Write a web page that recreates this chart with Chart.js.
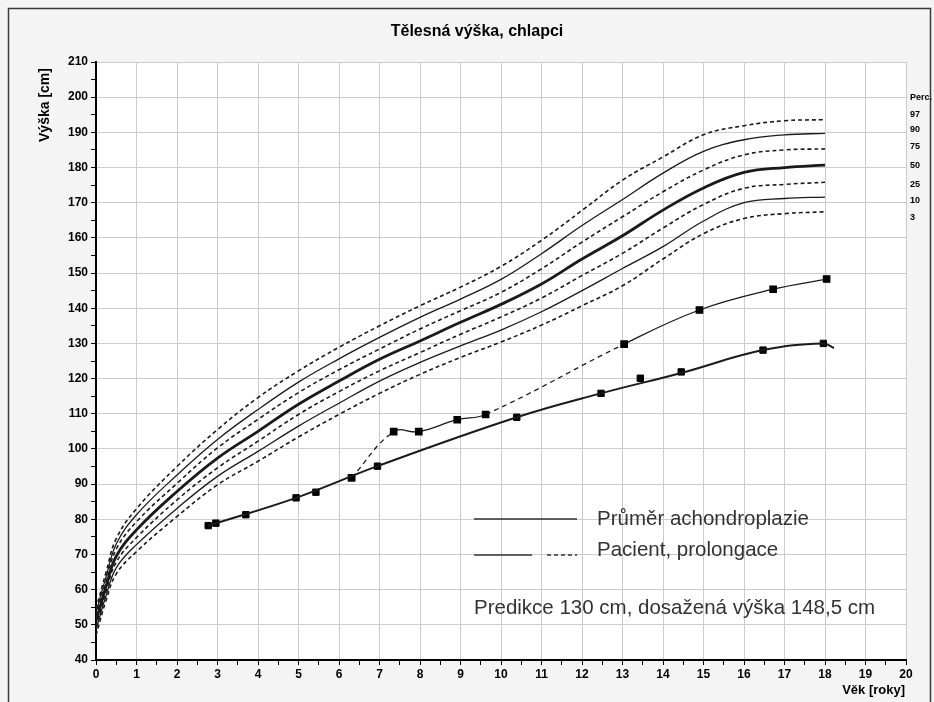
<!DOCTYPE html>
<html>
<head>
    <meta charset="utf-8">
    <title>Tělesná výška, chlapci</title>
    <script src="https://cdn.jsdelivr.net/npm/chart.js"></script>
    <style>
        body { margin: 0; background: #f4f4f4; }
        canvas { display: block; }
    </style>
</head>
<body>
    <canvas id="heightChart" width="934" height="702"></canvas>

    <script>
        // percentile curves (age in years -> height in cm)
        const percAges = [0, 0.25, 0.5, 1, 2, 3, 4, 5, 6, 7, 8, 9, 10, 11, 12, 13, 14, 15, 16, 17, 18];
        const p97 = [54.5, 65, 74.5, 83.0, 95.0, 105.5, 114.6, 122.2, 128.9, 135.0, 140.7, 146.0, 151.9, 159.3, 167.8, 176.4, 183.0, 189.3, 191.9, 193.3, 193.6];
        const p90 = [53.5, 63.7, 73, 81.3, 92.6, 102.7, 111.2, 119.0, 125.6, 131.7, 137.4, 142.6, 148.2, 155.5, 163.5, 170.9, 178.4, 184.6, 187.9, 189.3, 189.7];
        const p75 = [52.5, 62.4, 71.5, 79.3, 90.2, 100.3, 108.4, 116.0, 122.5, 128.4, 134.1, 139.3, 144.5, 151.2, 158.8, 166.0, 173.1, 179.3, 183.6, 185.0, 185.3];
        const p50 = [51, 61, 69.5, 77.0, 87.9, 97.4, 105.0, 112.7, 119.3, 125.5, 130.7, 136.0, 141.1, 146.9, 154.0, 160.6, 167.9, 174.2, 178.6, 180.0, 180.7];
        const p25 = [49.5, 59.6, 67.8, 74.8, 85.5, 94.6, 102.2, 109.8, 116.3, 122.2, 127.4, 132.6, 137.5, 142.9, 149.3, 155.6, 162.8, 169.5, 174.1, 175.2, 175.8];
        const p10 = [48.5, 58.4, 66.2, 72.8, 83.1, 92.2, 99.3, 106.5, 113.0, 119.3, 124.6, 129.3, 133.8, 139.0, 145.0, 151.3, 157.5, 164.8, 170.0, 171.2, 171.6];
        const p3 = [47, 57, 64.5, 70.8, 80.8, 89.8, 96.5, 103.4, 109.8, 115.8, 121.2, 126.0, 130.4, 135.2, 140.7, 146.4, 154.0, 161.2, 165.5, 166.9, 167.4];
        const percNames = ['97', '90', '75', '50', '25', '10', '3'];

        // průměr achondroplazie - smooth curve
        const achCurveAges = [2.77, 4.94, 6.95, 10.39, 12.47, 14.45, 16.47, 17.96, 18.22];
        const achCurveHeights = [78.2, 86.1, 95.1, 109.0, 115.8, 121.6, 128.1, 130.0, 128.7];

        // measured points lying on that curve
        const achAges = [2.77, 2.96, 3.70, 4.94, 5.43, 6.31, 6.95, 10.39, 12.47, 13.44, 14.45, 16.47, 17.96];
        const achHeights = [78.2, 78.9, 81.3, 86.1, 87.7, 91.8, 95.1, 109.0, 115.8, 120.1, 121.9, 128.1, 130.0];

        // pacient, prolongace
        const patAges = [6.31, 7.35, 7.97, 8.92, 9.62, 13.04, 14.90, 16.72, 18.04];
        const patHeights = [91.8, 104.9, 104.9, 108.3, 109.8, 129.8, 139.5, 145.4, 148.3];
        const patDashedSegments = [0, 4];

        const ink = '#1a1a1a';

        function pts(xs, ys) {
            return xs.map((x, i) => ({ x: x, y: ys[i] }));
        }

        function percDataset(values, width, dashed) {
            return {
                data: pts(percAges, values),
                borderColor: ink,
                borderWidth: width,
                borderDash: dashed ? [4, 3] : [],
                pointRadius: 0,
                tension: 0.4,
                fill: false
            };
        }

        const decor = {
            id: 'decor',
            beforeDraw(chart) {
                const ctx = chart.ctx;
                const a = chart.chartArea;
                ctx.save();
                ctx.fillStyle = '#f4f4f4';
                ctx.fillRect(0, 0, chart.width, chart.height);
                ctx.strokeStyle = '#3a3a3a';
                ctx.lineWidth = 1.5;
                ctx.strokeRect(8.5, 8.5, 922, chart.height);
                ctx.fillStyle = '#ffffff';
                ctx.fillRect(a.left, a.top, a.right - a.left, a.bottom - a.top);
                ctx.restore();
            },
            afterDraw(chart) {
                const ctx = chart.ctx;
                const yScale = chart.scales.y;
                ctx.save();
                ctx.fillStyle = '#000';

                // title
                ctx.font = 'bold 16px "Liberation Sans", Arial, sans-serif';
                ctx.textAlign = 'center';
                ctx.textBaseline = 'middle';
                ctx.fillText('Tělesná výška, chlapci', 477, 32);

                // axis titles
                ctx.font = 'bold 14px "Liberation Sans", Arial, sans-serif';
                ctx.save();
                ctx.translate(45, 105);
                ctx.rotate(-Math.PI / 2);
                ctx.fillText('Výška [cm]', 0, 0);
                ctx.restore();
                ctx.font = 'bold 13px "Liberation Sans", Arial, sans-serif';
                ctx.textAlign = 'right';
                ctx.fillText('Věk [roky]', 905, 690);

                // percentile labels on the right
                ctx.font = 'bold 9px "Liberation Sans", Arial, sans-serif';
                ctx.textAlign = 'left';
                ctx.fillText('Perc.', 910, 98);
                const ends = [p97, p90, p75, p50, p25, p10, p3].map(s => yScale.getPixelForValue(s[s.length - 1]));
                const mid = ends[3];
                ends.forEach((y, i) => {
                    ctx.fillText(percNames[i], 910, mid + (y - mid) * 1.12);
                });

                // legend inside the plot
                ctx.strokeStyle = '#333';
                ctx.lineWidth = 1.3;
                ctx.beginPath();
                ctx.moveTo(474, 519); ctx.lineTo(577, 519);
                ctx.moveTo(474, 555); ctx.lineTo(532, 555);
                ctx.stroke();
                ctx.setLineDash([4, 3]);
                ctx.beginPath();
                ctx.moveTo(547, 555); ctx.lineTo(577, 555);
                ctx.stroke();
                ctx.setLineDash([]);

                ctx.fillStyle = '#333';
                ctx.font = '20.5px "Liberation Sans", Arial, sans-serif';
                ctx.textBaseline = 'middle';
                ctx.fillText('Průměr achondroplazie', 597, 519);
                ctx.fillText('Pacient, prolongace', 597, 550);
                ctx.fillText('Predikce 130 cm, dosažená výška 148,5 cm', 474, 608);
                ctx.restore();
            }
        };

        const tickFont = { family: 'Liberation Sans', weight: 'bold', size: 12 };

        const ctx = document.getElementById('heightChart').getContext('2d');
        const heightChart = new Chart(ctx, {
            type: 'line',
            data: {
                datasets: [
                    percDataset(p97, 1.6, true),
                    percDataset(p90, 1.3, false),
                    percDataset(p75, 1.6, true),
                    percDataset(p50, 2.8, false),
                    percDataset(p25, 1.6, true),
                    percDataset(p10, 1.3, false),
                    percDataset(p3, 1.6, true),
                    {
                        data: pts(achCurveAges, achCurveHeights),
                        borderColor: ink,
                        borderWidth: 2,
                        tension: 0.4,
                        pointRadius: 0,
                        fill: false
                    },
                    {
                        data: pts(achAges, achHeights),
                        showLine: false,
                        pointStyle: 'rect',
                        pointRadius: 4.5,
                        pointBackgroundColor: '#000',
                        pointBorderColor: '#000'
                    },
                    {
                        data: pts(patAges, patHeights),
                        borderColor: ink,
                        borderWidth: 1.3,
                        tension: 0.4,
                        segment: {
                            borderDash: c => patDashedSegments.includes(c.p0DataIndex) ? [5, 4] : undefined
                        },
                        pointStyle: 'rect',
                        pointRadius: 4.5,
                        pointBackgroundColor: '#000',
                        pointBorderColor: '#000',
                        fill: false
                    }
                ]
            },
            options: {
                responsive: false,
                animation: false,
                layout: { padding: { top: 62, right: 28, left: 0, bottom: 0 } },
                plugins: {
                    legend: { display: false },
                    tooltip: { enabled: false }
                },
                scales: {
                    x: {
                        type: 'linear',
                        min: 0,
                        max: 20,
                        afterFit: s => { s.height = 42; },
                        border: { color: '#000', width: 2 },
                        grid: {
                            color: c => Number.isInteger(c.tick.value) ? '#cccccc' : 'rgba(0,0,0,0)',
                            tickColor: '#000',
                            tickLength: 5
                        },
                        ticks: {
                            stepSize: 0.5,
                            autoSkip: false,
                            maxRotation: 0,
                            color: '#000',
                            font: tickFont,
                            padding: 2,
                            callback: v => Number.isInteger(v) ? v : ''
                        }
                    },
                    y: {
                        min: 40,
                        max: 210,
                        afterFit: s => { s.width = 96; },
                        border: { color: '#000', width: 2 },
                        grid: {
                            color: c => c.tick.value % 10 === 0 ? '#cccccc' : 'rgba(0,0,0,0)',
                            tickColor: '#000',
                            tickLength: 5
                        },
                        ticks: {
                            stepSize: 5,
                            autoSkip: false,
                            color: '#000',
                            font: tickFont,
                            padding: 3,
                            callback: v => v % 10 === 0 ? v : ''
                        }
                    }
                }
            },
            plugins: [decor]
        });
    </script>
</body>
</html>
